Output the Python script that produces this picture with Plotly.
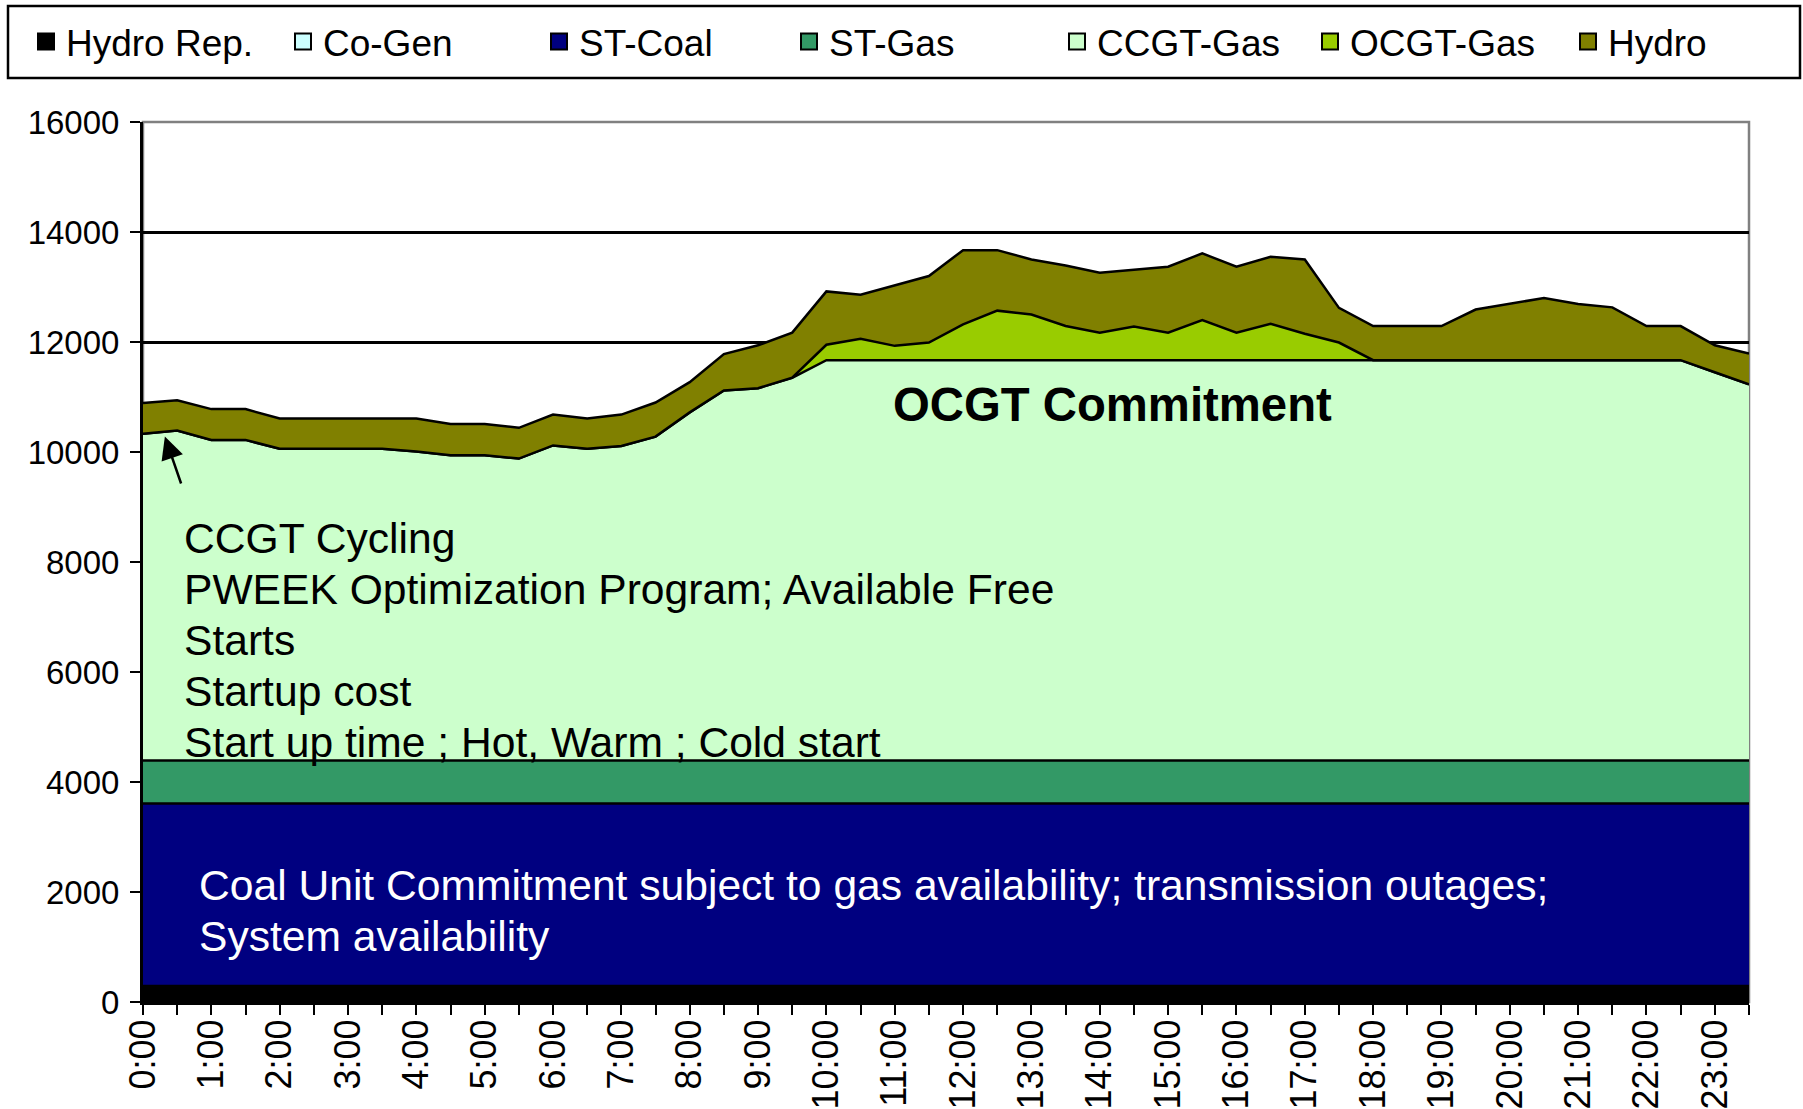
import plotly.graph_objects as go

# ---------------- data ----------------
times = ["0:00", "0:30", "1:00", "1:30", "2:00", "2:30", "3:00", "3:30",
         "4:00", "4:30", "5:00", "5:30", "6:00", "6:30", "7:00", "7:30",
         "8:00", "8:30", "9:00", "9:30", "10:00", "10:30", "11:00", "11:30",
         "12:00", "12:30", "13:00", "13:30", "14:00", "14:30", "15:00", "15:30",
         "16:00", "16:30", "17:00", "17:30", "18:00", "18:30", "19:00", "19:30",
         "20:00", "20:30", "21:00", "21:30", "22:00", "22:30", "23:00", "23:30"]

hydro_rep = [290, 290, 290, 290, 290, 290, 290, 290, 290, 290, 290, 290,
             290, 290, 290, 290, 290, 290, 290, 290, 290, 290, 290, 290,
             290, 290, 290, 290, 290, 290, 290, 290, 290, 290, 290, 290,
             290, 290, 290, 290, 290, 290, 290, 290, 290, 290, 290, 290]

co_gen = [0, 0, 0, 0, 0, 0, 0, 0, 0, 0, 0, 0,
          0, 0, 0, 0, 0, 0, 0, 0, 0, 0, 0, 0,
          0, 0, 0, 0, 0, 0, 0, 0, 0, 0, 0, 0,
          0, 0, 0, 0, 0, 0, 0, 0, 0, 0, 0, 0]

st_coal = [3320, 3320, 3320, 3320, 3320, 3320, 3320, 3320, 3320, 3320, 3320, 3320,
           3320, 3320, 3320, 3320, 3320, 3320, 3320, 3320, 3320, 3320, 3320, 3320,
           3320, 3320, 3320, 3320, 3320, 3320, 3320, 3320, 3320, 3320, 3320, 3320,
           3320, 3320, 3320, 3320, 3320, 3320, 3320, 3320, 3320, 3320, 3320, 3320]

st_gas = [780, 780, 780, 780, 780, 780, 780, 780, 780, 780, 780, 780,
          780, 780, 780, 780, 780, 780, 780, 780, 780, 780, 780, 780,
          780, 780, 780, 780, 780, 780, 780, 780, 780, 780, 780, 780,
          780, 780, 780, 780, 780, 780, 780, 780, 780, 780, 780, 780]

ccgt_gas = [5940, 6000, 5830, 5830, 5670, 5670, 5670, 5670, 5620, 5550, 5550, 5490,
            5730, 5670, 5720, 5890, 6330, 6730, 6770, 6960, 7280, 7280, 7280, 7280,
            7280, 7280, 7280, 7280, 7280, 7280, 7280, 7280, 7280, 7280, 7280, 7280,
            7280, 7280, 7280, 7280, 7280, 7280, 7280, 7280, 7280, 7280, 7060, 6840]

ocgt_gas = [0, 0, 0, 0, 0, 0, 0, 0, 0, 0, 0, 0,
            0, 0, 0, 0, 0, 0, 0, 0, 280, 390, 260, 320,
            650, 900, 830, 620, 500, 610, 500, 730, 500, 660, 480, 320,
            0, 0, 0, 0, 0, 0, 0, 0, 0, 0, 0, 0]

hydro = [560, 550, 560, 560, 550, 550, 550, 550, 600, 570, 570, 560,
         560, 550, 570, 620, 550, 660, 780, 820, 970, 800, 1100, 1210,
         1350, 1100, 1000, 1100, 1090, 1040, 1200, 1210, 1200, 1220, 1350, 630,
         620, 620, 620, 920, 1030, 1130, 1020, 960, 620, 620, 490, 560]

series_names = ["Hydro Rep.", "Co-Gen", "ST-Coal", "ST-Gas", "CCGT-Gas", "OCGT-Gas", "Hydro"]
series_values = [hydro_rep, co_gen, st_coal, st_gas, ccgt_gas, ocgt_gas, hydro]
series_colors = ["#000000", "#CCFFFF", "#000080", "#339966", "#CCFFCC", "#99CC00", "#808000"]
legend_widths = [212, 211, 205, 223, 208, 213, 100]

y_ticks = [0, 2000, 4000, 6000, 8000, 10000, 12000, 14000, 16000]
y_tick_text = ["0", "2000", "4000", "6000", "8000", "10000", "12000", "14000", "16000"]

FONT = "Liberation Sans, Arial, sans-serif"

xs = list(range(len(times)))

fig = go.Figure()

# stacked areas
for name, vals, col in zip(series_names, series_values, series_colors):
    fig.add_trace(go.Scatter(
        x=xs, y=vals, name=name, mode="lines", stackgroup="one",
        fillcolor=col, line=dict(color="black", width=2.5),
        showlegend=False, hoverinfo="skip"))

# legend entries (square swatches)
for name, col, lw in zip(series_names, series_colors, legend_widths):
    fig.add_trace(go.Scatter(
        x=[None], y=[None], name=name, mode="markers",
        marker=dict(symbol="square", size=16, color=col,
                    line=dict(color="black", width=2)),
        legendwidth=lw, showlegend=True, hoverinfo="skip"))

W, H = 1803, 1109
ML, MR, MT, MB = 143, 54, 122, 107
PW = W - ML - MR
PH = H - MT - MB


def px_x(px):
    return (px - ML) / PW


def px_y(py):
    return (H - MB - py) / PH


annotations = []
ccgt_lines = ["CCGT Cycling",
              "PWEEK Optimization Program; Available Free",
              "Starts",
              "Startup cost",
              "Start up time ; Hot, Warm ; Cold start"]
for i, t in enumerate(ccgt_lines):
    annotations.append(dict(text=t, xref="paper", yref="paper",
                            x=px_x(182), y=px_y(538 + 51 * i),
                            xanchor="left", yanchor="middle", showarrow=False,
                            font=dict(family=FONT, size=42.6, color="black")))

coal_lines = ["Coal Unit Commitment subject to gas availability; transmission outages;",
              "System availability"]
for i, t in enumerate(coal_lines):
    annotations.append(dict(text=t, xref="paper", yref="paper",
                            x=px_x(197), y=px_y(885 + 51 * i),
                            xanchor="left", yanchor="middle", showarrow=False,
                            font=dict(family=FONT, size=42.6, color="white")))

annotations.append(dict(text="<b>OCGT Commitment</b>", xref="paper", yref="paper",
                        x=px_x(1112), y=px_y(405), xanchor="center", yanchor="middle",
                        showarrow=False, font=dict(family=FONT, size=47.3, color="black")))

# arrow
annotations.append(dict(text="", x=0.64, y=10280, xref="x", yref="y",
                        ax=1.13, ay=9400, axref="x", ayref="y",
                        showarrow=True, arrowhead=2, arrowsize=1.8,
                        arrowwidth=2.5, arrowcolor="black"))

shapes = [
    # plot-area border (grey)
    dict(type="rect", xref="paper", yref="paper", x0=0, x1=1, y0=0, y1=1,
         line=dict(color="#808080", width=2.5), layer="between"),
    # legend box
    dict(type="rect", xref="paper", yref="paper",
         x0=px_x(8), x1=px_x(1800), y0=px_y(78), y1=px_y(6),
         line=dict(color="black", width=2.5), layer="above"),
]

fig.update_layout(
    width=W, height=H,
    margin=dict(l=ML, r=MR, t=MT, b=MB, autoexpand=False),
    paper_bgcolor="white", plot_bgcolor="white",
    font=dict(family=FONT, color="black"),
    showlegend=True,
    legend=dict(orientation="h", x=px_x(26), xanchor="left",
                y=px_y(42), yanchor="middle", traceorder="normal",
                font=dict(family=FONT, size=37, color="black"),
                bgcolor="rgba(0,0,0,0)", borderwidth=0, itemwidth=30),
    annotations=annotations,
    shapes=shapes,
    xaxis=dict(range=[0, len(times) - 1], tickmode="array",
               tickvals=xs[::2], ticktext=times[::2], tickangle=-90,
               ticks="outside", ticklen=10, tickwidth=2, tickcolor="black",
               minor=dict(ticks="outside", dtick=1, tick0=0, ticklen=10,
                          tickwidth=2, tickcolor="black"),
               showline=True, linecolor="black", linewidth=3,
               showgrid=False, zeroline=False, ticklabelstandoff=-10,
               tickfont=dict(family=FONT, size=36, color="black")),
    yaxis=dict(range=[0, 16000], tickmode="array", tickvals=y_ticks,
               ticktext=y_tick_text,
               ticks="outside", ticklen=10, tickwidth=2, tickcolor="black",
               showline=True, linecolor="black", linewidth=3,
               showgrid=True, gridcolor="black", gridwidth=2.5,
               zeroline=False, ticklabelstandoff=4,
               tickfont=dict(family=FONT, size=33, color="black")),
)

fig.write_html("out.html", config={"displayModeBar": False},
               post_script="document.body.style.margin='0px';")
